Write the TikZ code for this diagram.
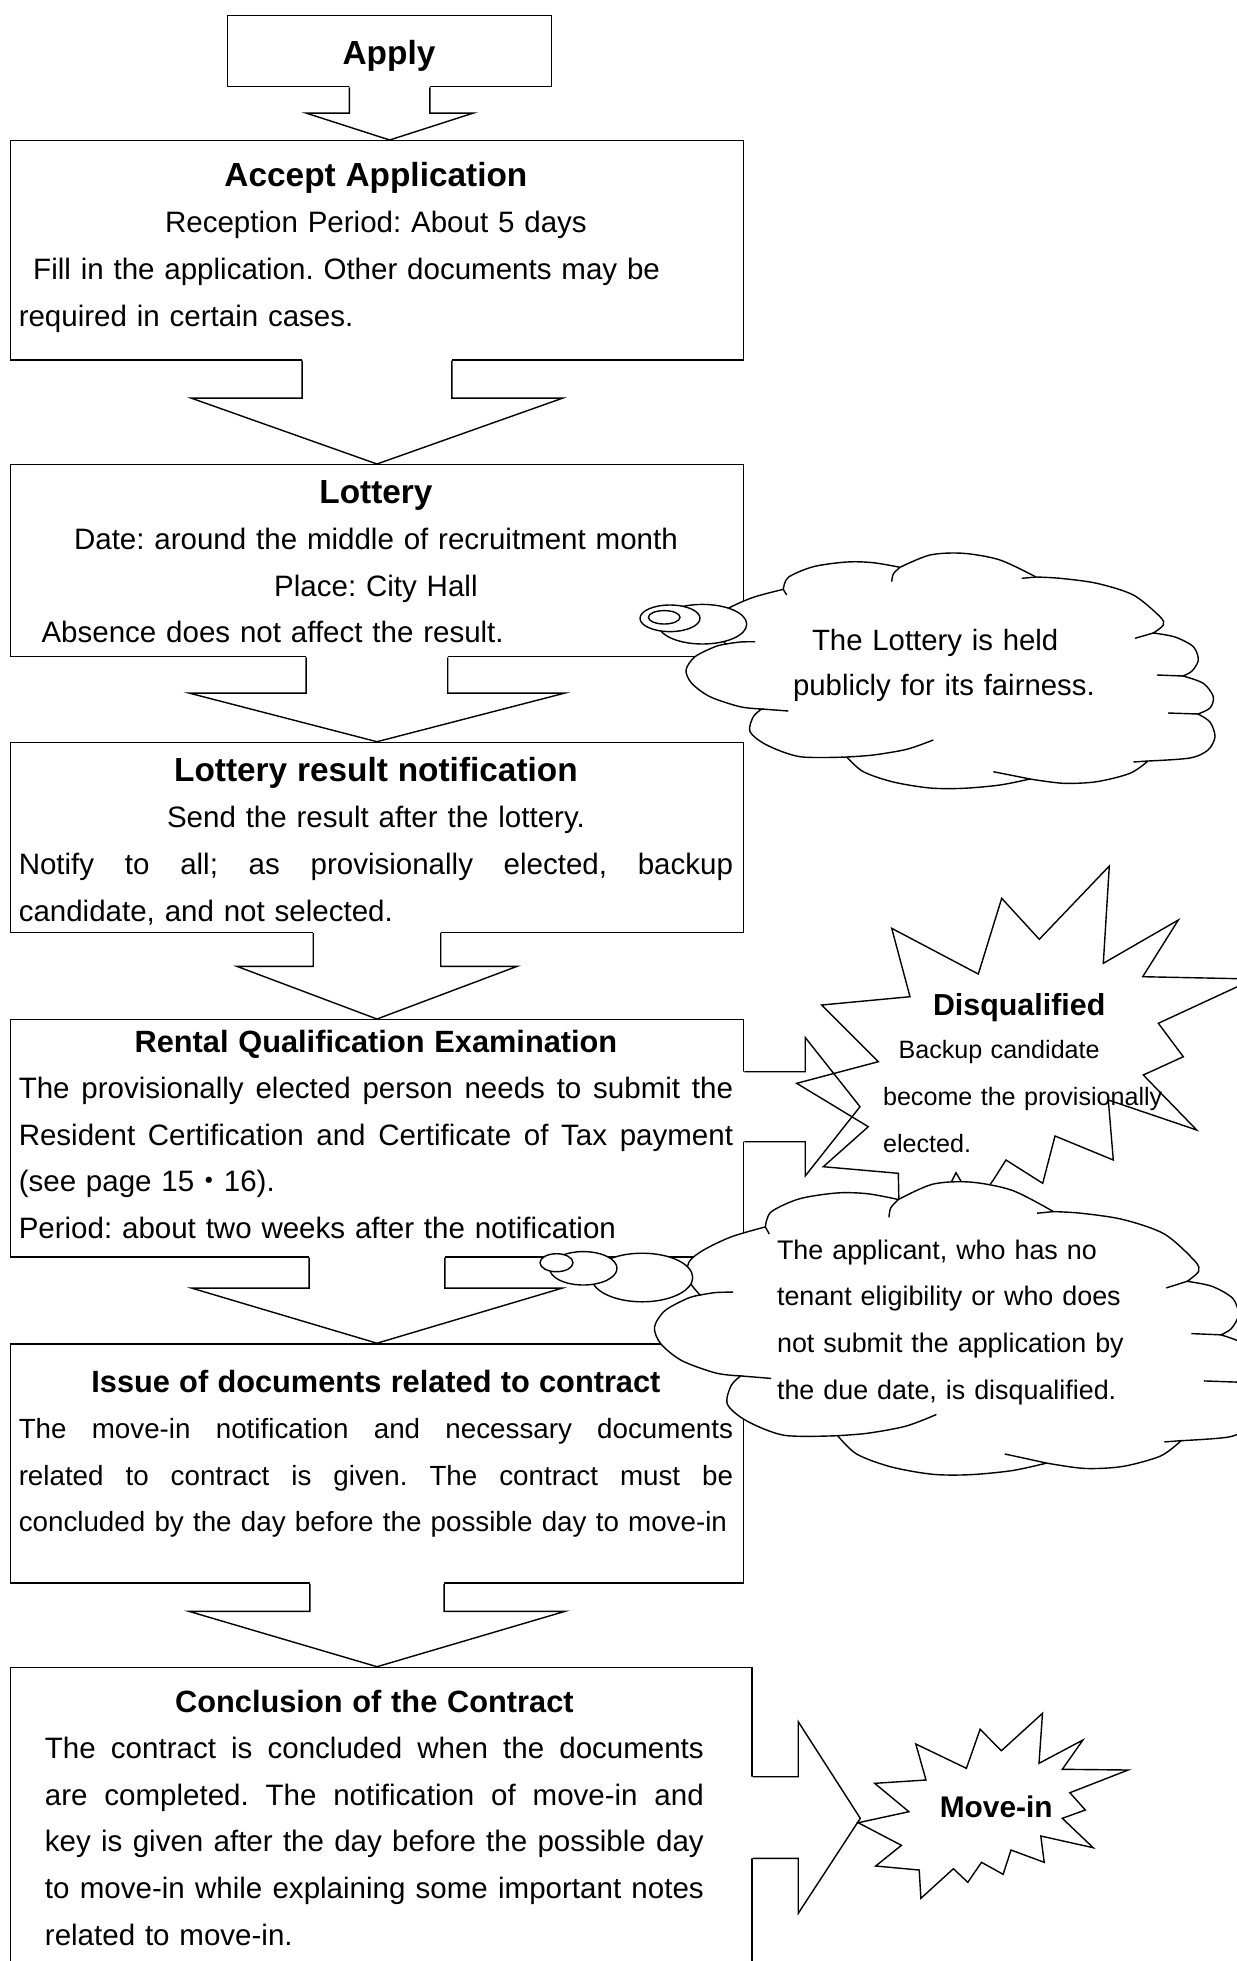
\documentclass[tikz,border=0pt]{standalone}
\usepackage{fontspec}
\setmainfont{Liberation Sans}
\newfontfamily\cjk{Noto Sans CJK JP}
\usetikzlibrary{calc}

\newcommand{\bodyfont}{\fontsize{16.8}{26.5}\selectfont}
\newcommand{\headfont}{\fontsize{19}{26.5}\selectfont\bfseries}
\newcommand{\subheadfont}{\fontsize{17.5}{26.5}\selectfont\bfseries}
\newcommand{\boxstrut}{\rule{0pt}{0.6cm}}
\newcommand{\justline}[1]{\leavevmode\hbox to\linewidth{\spaceskip=0.278em plus 1fil\relax #1}}
\newcommand{\midline}[1]{\leavevmode\hbox to\linewidth{\hfil #1\hfil}}

\tikzset{
  stepbox/.style={draw, line width=0.8pt, fill=white, anchor=north west, inner sep=0pt},
  boxtext/.style={anchor=north west, inner sep=0pt, text width=14.29cm, align=left, font=\bodyfont},
  calltext/.style={anchor=north west, inner sep=0pt, text width=9cm, align=left},
  blockline/.style={line width=0.8pt, line join=miter},
  callline/.style={line width=0.8pt, fill=white},
  pics/cloudcall/.style={code={
    \draw[callline] plot[smooth] coordinates {(41,91) (31,79) (31,65) (43.3,55.3) (68.3,44.3) (98.3,36.3)}
      -- plot[smooth] coordinates {(98.3,36.3) (103.3,24.3) (128.3,13.7) (161.7,9) (188.3,9.7) (215,14.3)}
      -- plot[smooth] coordinates {(215,14.3) (245,2) (278.3,0.3) (315,7) (351,24)}
      -- plot[smooth] coordinates {(351,24) (375,25.3) (411.7,30.3) (448.3,42) (475,63.7) (478.3,72) (468.3,80)}
      -- plot[smooth] coordinates {(468.3,80) (490,84) (508.3,93.7) (513.3,107) (507,118) (498,123)}
      -- plot[smooth] coordinates {(498,123) (518.3,130.3) (528.3,143.7) (525,155) (513,161)}
      -- plot[smooth] coordinates {(513,161) (525,169) (530,183.7) (523,197) (505,205) (463,208)}
      -- plot[smooth] coordinates {(463,208) (445,220.3) (411.7,228.7) (378.3,230.3) (345,226)}
      -- plot[smooth] coordinates {(345,226) (315,232) (278.3,235.3) (245,235) (208.3,229) (178.3,218.7) (161.7,204)}
      -- plot[smooth] coordinates {(161.7,204) (115,203.7) (81.7,192) (65,178.7) (68.3,163.7) (76.7,156)}
      -- plot[smooth] coordinates {(76.7,156) (55,153.7) (25,143.7) (6.7,130.3) (1,117) (10,103.7) (30,93.7) (41,91)}
      -- cycle;
    \draw[blockline] plot[smooth] coordinates {(98.3,36.3) (101.7,42)};
    \draw[blockline] plot[smooth] coordinates {(215,14.3) (208.3,21) (206.7,28.7)};
    \draw[blockline] plot[smooth] coordinates {(351,24) (336.7,25.3)};
    \draw[blockline] plot[smooth] coordinates {(468.3,80) (450,85.3)};
    \draw[blockline] plot[smooth] coordinates {(498,123) (485,122.5) (472,122)};
    \draw[blockline] plot[smooth] coordinates {(513,161) (483,160)};
    \draw[blockline] plot[smooth] coordinates {(463,208) (448.3,209)};
    \draw[blockline] plot[smooth] coordinates {(345,226) (325,222) (308.3,218.7)};
    \draw[blockline] plot[smooth] coordinates {(161.7,204) (188.3,202) (221.7,196.3) (248.3,187)};
    \draw[blockline] plot[smooth] coordinates {(76.7,156) (103.3,158)};
    \draw[blockline] plot[smooth] coordinates {(41,91) (55,89) (70,88.7)};
  }}
}

\newcommand{\blockdown}[5]{%
  \fill[white] ($(#1.south)+(-#3,-2)$) -- ($(#1.south)+(-#3,#5)$) -- ($(#1.south)+(-#4,#5)$)
    -- (#1.south |- #2.north) -- ($(#1.south)+(#4,#5)$) -- ($(#1.south)+(#3,#5)$) -- ($(#1.south)+(#3,-2)$) -- cycle;
  \draw[blockline] ($(#1.south)+(-#3,0)$) -- ($(#1.south)+(-#3,#5)$) -- ($(#1.south)+(-#4,#5)$)
    -- (#1.south |- #2.north) -- ($(#1.south)+(#4,#5)$) -- ($(#1.south)+(#3,#5)$) -- ($(#1.south)+(#3,0)$);
}
\newcommand{\blockright}[5]{%
  \fill[white] ($(#1)+(-2,-#3)$) -- ($(#1)+(#5,-#3)$) -- ($(#1)+(#5,-#4)$)
    -- (#2) -- ($(#1)+(#5,#4)$) -- ($(#1)+(#5,#3)$) -- ($(#1)+(-2,#3)$) -- cycle;
  \draw[blockline] ($(#1)+(0,-#3)$) -- ($(#1)+(#5,-#3)$) -- ($(#1)+(#5,-#4)$)
    -- (#2) -- ($(#1)+(#5,#4)$) -- ($(#1)+(#5,#3)$) -- ($(#1)+(0,#3)$);
}

\frenchspacing

\begin{document}
\begin{tikzpicture}[x=0.02cm, y=-0.02cm]
\useasboundingbox (0,0) rectangle (1237,1961);
\clip (0,0) rectangle (1237,1961);

\node[stepbox, minimum width=6.484cm, minimum height=1.42cm] (apply) at (226.9,15) {};
\node[font=\headfont, anchor=base] (applytext) at (389,64) {Apply};

\node[stepbox, minimum width=14.666cm, minimum height=4.386cm] (accept) at (9.7,140) {};
\node[boxtext] (accepttext) at (18.4,156) {\boxstrut\midline{\headfont Accept Application}\\
\midline{Reception Period: About 5 days}\\
\mbox{\hspace*{0.29cm}Fill in the application. Other documents may be}\\
\mbox{required in certain cases.}};

\node[stepbox, minimum width=14.666cm, minimum height=3.84cm] (lottery) at (9.7,464) {};
\node[boxtext] (lotterytext) at (18.4,472.7) {\boxstrut\midline{\headfont Lottery}\\
\midline{Date: around the middle of recruitment month}\\
\midline{Place: City Hall}\\
\mbox{\hspace*{0.456cm}Absence does not affect the result.}};

\node[stepbox, minimum width=14.666cm, minimum height=3.8cm] (result) at (9.7,741.7) {};
\node[boxtext] (resulttext) at (18.4,751) {\boxstrut\midline{\headfont Lottery result notification}\\
\midline{Send the result after the lottery.}\\
\justline{Notify to all; as provisionally elected, backup}\\
\mbox{candidate, and not selected.}};

\node[stepbox, minimum width=14.666cm, minimum height=4.744cm] (rental) at (9.7,1019) {};
\node[boxtext] (rentaltext) at (18.4,1021.7) {\boxstrut\midline{\subheadfont Rental Qualification Examination}\\
\justline{The provisionally elected person needs to submit the}\\
\justline{Resident Certification and Certificate of Tax payment}\\
\mbox{(see page 15{\cjk ・}16).}\\
\mbox{Period: about two weeks after the notification}};

\node[stepbox, minimum width=14.666cm, minimum height=4.784cm] (issue) at (9.7,1343.2) {};
\node[boxtext, font=\fontsize{15.8}{26.5}\selectfont] (issuetext) at (18.4,1361.8) {\boxstrut\midline{\subheadfont Issue of documents related to contract}\\
\justline{The move-in notification and necessary documents}\\
\justline{related to contract is given. The contract must be}\\
\mbox{concluded by the day before the possible day to move-in}};

\node[stepbox, minimum width=14.832cm, minimum height=6.8cm] (conclusion) at (9.7,1666.7) {};
\node[boxtext, text width=13.18cm] (conclusiontext) at (44.6,1681.9) {\boxstrut\midline{\subheadfont Conclusion of the Contract}\\
\justline{The contract is concluded when the documents}\\
\justline{are completed. The notification of move-in and}\\
\justline{key is given after the day before the possible day}\\
\justline{to move-in while explaining some important notes}\\
\mbox{related to move-in.}};

\blockdown{apply}{accept}{40.25}{83.6}{25.7}
\blockdown{accept}{lottery}{74.9}{185.9}{37.4}
\blockdown{lottery}{result}{70.8}{187.9}{35.7}
\blockdown{result}{rental}{63.75}{140}{33.3}
\blockdown{rental}{issue}{67.85}{185.4}{30.5}
\blockdown{issue}{conclusion}{67.1}{187.9}{27.6}

\coordinate (rentalout) at ($(rental.north east)+(0,87.7)$);
\coordinate (disqtip) at (860,1106.7);
\blockright{rentalout}{disqtip}{35}{69.2}{61}
\coordinate (conclout) at ($(conclusion.north east)+(0,150.8)$);
\coordinate (moveintip) at (860.3,1818.3);
\blockright{conclout}{moveintip}{40.8}{95.8}{45.7}

\draw[blockline] (878.3,1061.7) -- (821.7,1005) -- (910,996.7) -- (891.7,928.3) -- (978.3,974)
  -- (1001.7,898.3) -- (1039.3,939.3) -- (1109.3,866) -- (1103.3,963.3) -- (1178.3,920)
  -- (1142.7,976.7) -- (1254,979) -- (1158.3,1023.3) -- (1183.3,1056.7) -- (1143.3,1075)
  -- (1196.7,1130) -- (1108.3,1100) -- (1113.3,1160) -- (1055,1136) -- (1042.7,1183.3)
  -- (1006,1160) -- (993.3,1180) -- (975,1205) -- (956,1172.7) -- (940,1205) -- (899,1205)
  -- (898.3,1173.3) -- (823.3,1166.7) -- (868.3,1126.7) -- (796.7,1083.3) -- cycle;
\node[calltext, font=\fontsize{14.3}{26.6}\selectfont] (disqtext) at (882.7,985) {\boxstrut\hspace*{1cm}{\fontsize{17.3}{26.6}\selectfont\bfseries Disqualified}\\[-0.068cm]
\hspace*{0.31cm}Backup candidate\\
become the provisionally\\
elected.};

\draw[blockline] (858.2,1822.7) -- (908.9,1811.7) -- (874.7,1783.3) -- (926,1780) -- (915.8,1744)
  -- (966.4,1768.3) -- (980.1,1729.3) -- (1001.4,1750.7) -- (1042.5,1713.3) -- (1039,1763.3)
  -- (1082.9,1740) -- (1062.3,1769.3) -- (1128.1,1770) -- (1069.9,1792.7) -- (1085.3,1810)
  -- (1062.3,1818.3) -- (1093.2,1847.7) -- (1040.8,1836) -- (1044.2,1862.3) -- (1011,1850)
  -- (1003.1,1874.3) -- (981.5,1862.3) -- (967.8,1882.3) -- (953.4,1868.7) -- (920.9,1898.3)
  -- (919.2,1870) -- (875.7,1866) -- (901.4,1845.3) -- cycle;
\node[font=\fontsize{17}{20}\selectfont\bfseries, anchor=base] (moveintext) at (996.2,1817.4) {Move-in};

\pic at (685,553) {cloudcall};
\draw[callline] (702.5,624.2) ellipse [x radius=44.2, y radius=19.8];
\draw[callline] (670,618.3) ellipse [x radius=30, y radius=13.3];
\draw[callline] (664.2,617.3) ellipse [x radius=15.8, y radius=6.7];
\node[calltext, font=\fontsize{16.7}{25.9}\selectfont] (lotterynote) at (792.7,619.7) {\boxstrut\hspace*{0.38cm}The Lottery is held\\
publicly for its fairness.};

\pic[xscale=1.14, yscale=1.245] at (653.3,1181.7) {cloudcall};
\draw[callline] (642.2,1277.5) ellipse [x radius=50.5, y radius=24.3];
\draw[callline] (583.3,1268.3) ellipse [x radius=33.7, y radius=16.7];
\draw[callline] (556.5,1262.7) ellipse [x radius=16.5, y radius=9];
\node[calltext, font=\fontsize{15.3}{26.6}\selectfont] (disqnote) at (776.7,1228.9) {\boxstrut The applicant, who has no\\
tenant eligibility or who does\\
not submit the application by\\
the due date, is disqualified.};
\end{tikzpicture}
\end{document}
